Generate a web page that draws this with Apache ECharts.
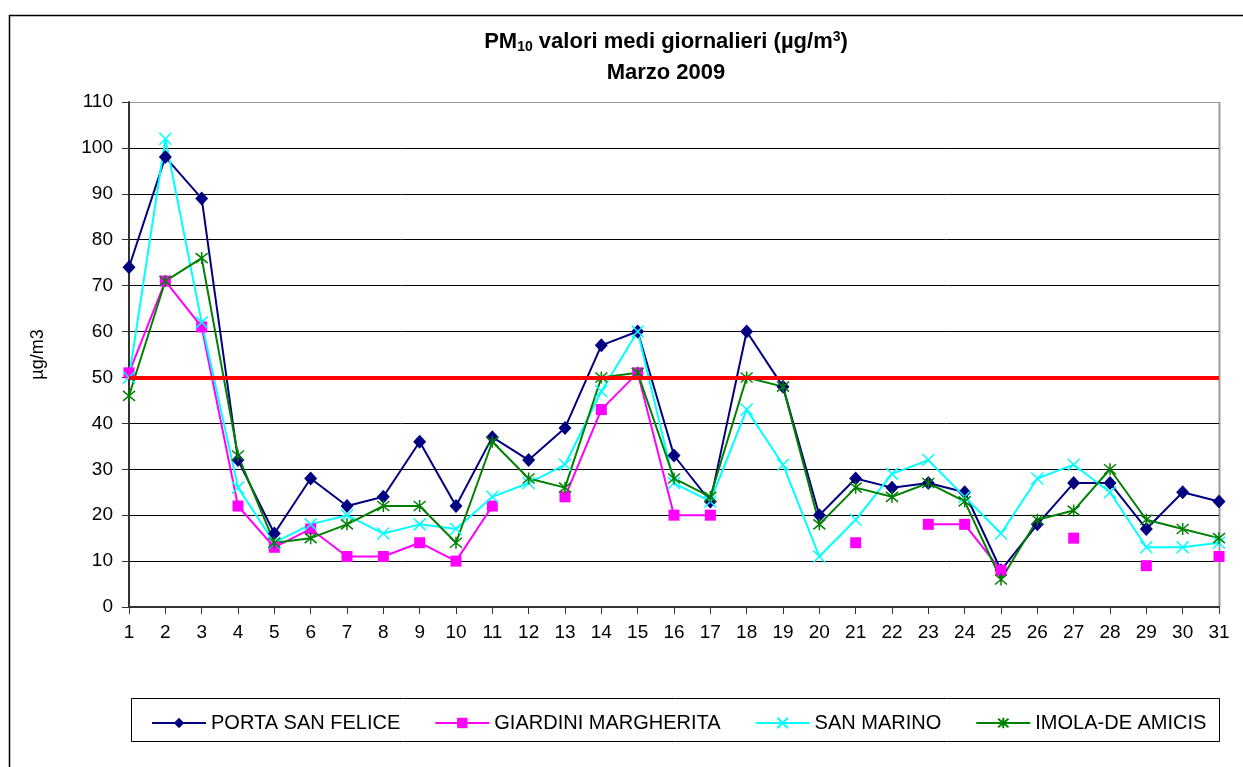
<!DOCTYPE html>
<html lang="it">
<head>
    <meta charset="UTF-8">
    <title>PM10 Marzo 2009</title>
    <script src="https://cdn.jsdelivr.net/npm/echarts/dist/echarts.min.js"></script>
    <style>
        body {
            margin: 0;
            padding: 0;
            background-color: #fff;
        }
        #chart {
            width: 1243px;
            height: 767px;
        }
    </style>
</head>
<body>
    <div id="chart"></div>

    <script>
        // giorni di marzo
        const days = ['1','2','3','4','5','6','7','8','9','10','11','12','13','14','15','16',
                      '17','18','19','20','21','22','23','24','25','26','27','28','29','30','31'];

        const portaSanFelice = [74, 98, 89, 32, 16, 28, 22, 24, 36, 22, 37, 32, 39, 57, 60, 33,
                                23, 60, 48, 20, 28, 26, 27, 25, 8, 18, 27, 27, 17, 25, 23];
        const giardiniMargherita = [51, 71, 61, 22, 13, 17, 11, 11, 14, 10, 22, null, 24, 43, 51, 20,
                                    20, null, null, null, 14, null, 18, 18, 8, null, 15, null, 9, null, 11];
        const sanMarino = [50, 102, 62, 26, 14, 18, 20, 16, 18, 17, 24, 27, 31, 47, 60, 27,
                           23, 43, 31, 11, 19, 29, 32, 24, 16, 28, 31, 25, 13, 13, 14];
        const imolaDeAmicis = [46, 71, 76, 33, 14, 15, 18, 22, 22, 14, 36, 28, 26, 50, 51, 28,
                               24, 50, 48, 18, 26, 24, 27, 23, 6, 19, 21, 30, 19, 17, 15];

        const limite = 50;
        const yTicks = [0, 10, 20, 30, 40, 50, 60, 70, 80, 90, 100, 110];

        const font = 'Arial, "Liberation Sans", sans-serif';

        const chart = echarts.init(document.getElementById('chart'));

        const crossPath = 'path://M0,0L10,10M10,0L0,10';
        const starPath = 'path://M0,0L10,10M10,0L0,10M5,-1L5,11';

        // colore della griglia: l'ultima linea (110) e' il bordo grigio
        const splitColors = yTicks.map((v, i) => i === yTicks.length - 1 ? '#9a9a9a' : '#000');

        const option = {
            animation: false,
            graphic: [
                {
                    type: 'rect',
                    shape: { x: 9.5, y: 15.5, width: 1300, height: 800 },
                    style: { fill: 'none', stroke: '#000', lineWidth: 1.5 },
                    silent: true
                },
                {
                    type: 'rect',
                    shape: { x: 131.5, y: 698.5, width: 1088, height: 43 },
                    style: { fill: '#fff', stroke: '#000', lineWidth: 1 },
                    silent: true,
                    z: -1
                },
                {
                    type: 'line',
                    shape: { x1: 1219.5, y1: 102, x2: 1219.5, y2: 607 },
                    style: { stroke: '#9a9a9a', lineWidth: 2 },
                    silent: true
                },
                {
                    type: 'text',
                    x: 666,
                    y: 30,
                    style: {
                        text: '{b|PM}{sub|10}{b| valori medi giornalieri (µg/m}{sup|3}{b|)}',
                        align: 'center',
                        rich: {
                            b: { fontSize: 22, fontWeight: 'bold', fontFamily: font, fill: '#000' },
                            sub: { fontSize: 14, fontWeight: 'bold', fontFamily: font, fill: '#000', padding: [10, 0, 0, 0] },
                            sup: { fontSize: 14, fontWeight: 'bold', fontFamily: font, fill: '#000', padding: [0, 0, 10, 0] }
                        }
                    }
                },
                {
                    type: 'text',
                    x: 666,
                    y: 62,
                    style: {
                        text: 'Marzo 2009',
                        align: 'center',
                        fontFamily: font,
                        fontSize: 22,
                        fontWeight: 'bold',
                        fill: '#000'
                    }
                }
            ],
            legend: {
                left: 146,
                top: 708,
                itemWidth: 54,
                itemHeight: 13,
                itemGap: 34,
                data: ['PORTA SAN FELICE', 'GIARDINI MARGHERITA', 'SAN MARINO', 'IMOLA-DE AMICIS'],
                textStyle: { fontFamily: font, fontSize: 20, color: '#000' }
            },
            grid: {
                left: 129,
                right: 24,
                top: 102,
                bottom: 160
            },
            xAxis: {
                type: 'category',
                data: days,
                boundaryGap: false,
                axisLine: { lineStyle: { color: '#333', width: 2 } },
                axisTick: { alignWithLabel: true, length: 7, lineStyle: { color: '#333' } },
                axisLabel: { fontFamily: font, fontSize: 19, color: '#000', margin: 16, interval: 0 },
                splitLine: { show: false }
            },
            yAxis: {
                type: 'value',
                min: 0,
                max: 110,
                interval: 10,
                name: 'µg/m3',
                nameLocation: 'middle',
                nameRotate: 90,
                nameGap: 82,
                nameTextStyle: { fontFamily: font, fontSize: 18, color: '#000' },
                axisLine: { show: true, lineStyle: { color: '#333', width: 2 } },
                axisTick: { show: true, length: 7, lineStyle: { color: '#333' } },
                axisLabel: { fontFamily: font, fontSize: 19, color: '#000', margin: 16 },
                splitLine: { lineStyle: { color: splitColors, width: 1 } }
            },
            series: [
                {
                    name: 'PORTA SAN FELICE',
                    type: 'line',
                    data: portaSanFelice,
                    symbol: 'diamond',
                    symbolSize: [13, 14],
                    showAllSymbol: true,
                    lineStyle: { color: '#000080', width: 2 },
                    itemStyle: { color: '#000080' },
                    markLine: {
                        silent: true,
                        symbol: 'none',
                        label: { show: false },
                        lineStyle: { color: '#ff0000', width: 4, type: 'solid' },
                        data: [{ yAxis: limite }]
                    }
                },
                {
                    name: 'GIARDINI MARGHERITA',
                    type: 'line',
                    data: giardiniMargherita,
                    symbol: 'rect',
                    symbolSize: 11,
                    showAllSymbol: true,
                    connectNulls: false,
                    lineStyle: { color: '#ff00ff', width: 2 },
                    itemStyle: { color: '#ff00ff' }
                },
                {
                    name: 'SAN MARINO',
                    type: 'line',
                    data: sanMarino,
                    symbol: crossPath,
                    symbolSize: 12,
                    showAllSymbol: true,
                    lineStyle: { color: '#00ffff', width: 2 },
                    itemStyle: { color: '#00ffff', borderColor: '#00ffff', borderWidth: 1.5 }
                },
                {
                    name: 'IMOLA-DE AMICIS',
                    type: 'line',
                    data: imolaDeAmicis,
                    symbol: starPath,
                    symbolSize: 12,
                    showAllSymbol: true,
                    lineStyle: { color: '#008000', width: 2 },
                    itemStyle: { color: '#008000', borderColor: '#008000', borderWidth: 1.5 }
                }
            ]
        };

        chart.setOption(option);
    </script>
</body>
</html>
